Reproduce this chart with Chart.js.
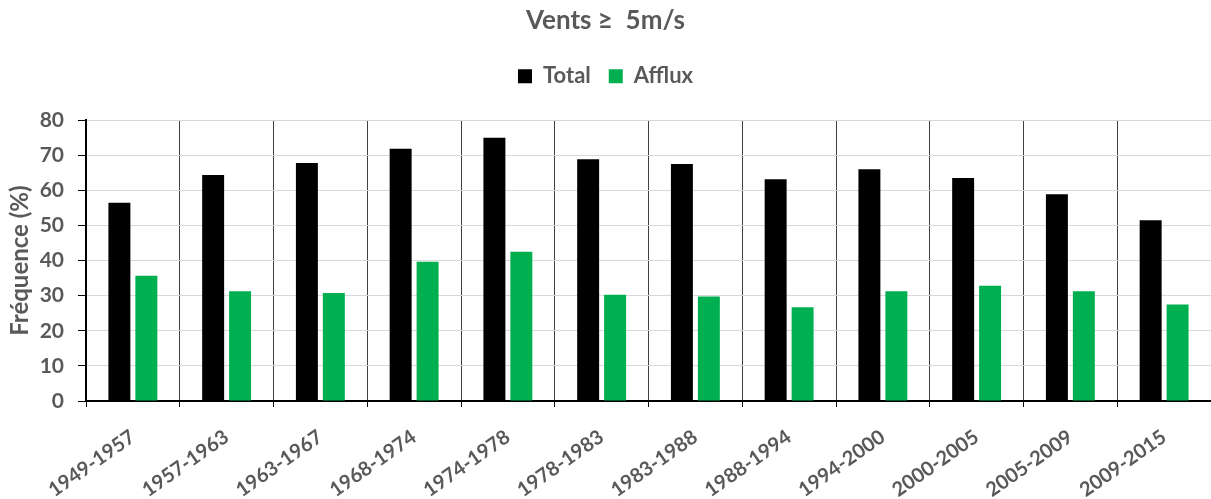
<!DOCTYPE html>
<html lang="fr">
<head>
    <meta charset="UTF-8">
    <title>Vents ≥ 5m/s</title>
    <script src="https://cdn.jsdelivr.net/npm/chart.js@4.4.0/dist/chart.umd.min.js"></script>
    <style>
        html, body { margin: 0; padding: 0; background: #fff; }
        #chart { display: block; }
    </style>
</head>
<body>
    <canvas id="chart" width="1211" height="499"></canvas>
    <script>
        // periods
        const periods = ['1949-1957', '1957-1963', '1963-1967', '1968-1974', '1974-1978', '1978-1983',
            '1983-1988', '1988-1994', '1994-2000', '2000-2005', '2005-2009', '2009-2015'];
        // frequencies (%)
        const total = [56.5, 64.4, 67.8, 71.9, 75.0, 68.9, 67.5, 63.2, 66.0, 63.5, 58.9, 51.5];
        const afflux = [35.7, 31.3, 30.8, 39.7, 42.5, 30.3, 29.8, 26.7, 31.3, 32.8, 31.3, 27.5];
        const yTicks = [0, 10, 20, 30, 40, 50, 60, 70, 80];

        const grey = '#595959';
        const fam = 'Lato, "Open Sans", sans-serif';

        // extra room under the legend, like the excel chart
        const legendGap = {
            id: 'legendGap',
            beforeInit: function (chart) {
                const fit = chart.legend.fit;
                chart.legend.fit = function () {
                    fit.bind(chart.legend)();
                    this.height += 23;
                };
            }
        };

        new Chart(document.getElementById('chart'), {
            type: 'bar',
            data: {
                labels: periods,
                datasets: [
                    { label: 'Total', data: total, backgroundColor: '#000000' },
                    { label: 'Afflux', data: afflux, backgroundColor: '#00b050' }
                ]
            },
            plugins: [legendGap],
            options: {
                responsive: false,
                animation: false,
                layout: { padding: 0 },
                datasets: {
                    bar: { categoryPercentage: 0.575, barPercentage: 0.815 }
                },
                plugins: {
                    title: {
                        display: true,
                        text: 'Vents ≥  5m/s',
                        color: grey,
                        font: { family: fam, size: 26, weight: 'bold' },
                        padding: { top: 5, bottom: 11 }
                    },
                    legend: {
                        labels: {
                            color: grey,
                            font: { family: fam, size: 22, weight: 'bold' },
                            boxWidth: 14,
                            boxHeight: 14,
                            padding: 18
                        }
                    },
                    tooltip: { enabled: false }
                },
                scales: {
                    x: {
                        afterFit: function (scale) { scale.height = 98; },
                        grid: {
                            offset: true,
                            color: '#404040',
                            lineWidth: 1,
                            tickColor: '#000',
                            tickLength: 6
                        },
                        border: { color: '#000', width: 2 },
                        ticks: {
                            color: grey,
                            font: { family: fam, size: 20, weight: 'bold' },
                            minRotation: 35,
                            maxRotation: 35,
                            padding: 18
                        }
                    },
                    y: {
                        min: 0,
                        max: 80,
                        afterFit: function (scale) { scale.width = 86; },
                        afterBuildTicks: function (scale) {
                            scale.ticks = yTicks.map(function (v) { return { value: v }; });
                        },
                        grid: {
                            color: '#d9d9d9',
                            lineWidth: 1,
                            tickColor: '#000',
                            tickLength: 8
                        },
                        border: { color: '#000', width: 2 },
                        ticks: {
                            color: grey,
                            font: { family: fam, size: 21, weight: 'bold' },
                            padding: 14
                        },
                        title: {
                            display: true,
                            text: 'Fréquence (%)',
                            color: grey,
                            font: { family: fam, size: 24, weight: 'bold' },
                            padding: { top: 6, bottom: 0 }
                        }
                    }
                }
            }
        });
    </script>
</body>
</html>
